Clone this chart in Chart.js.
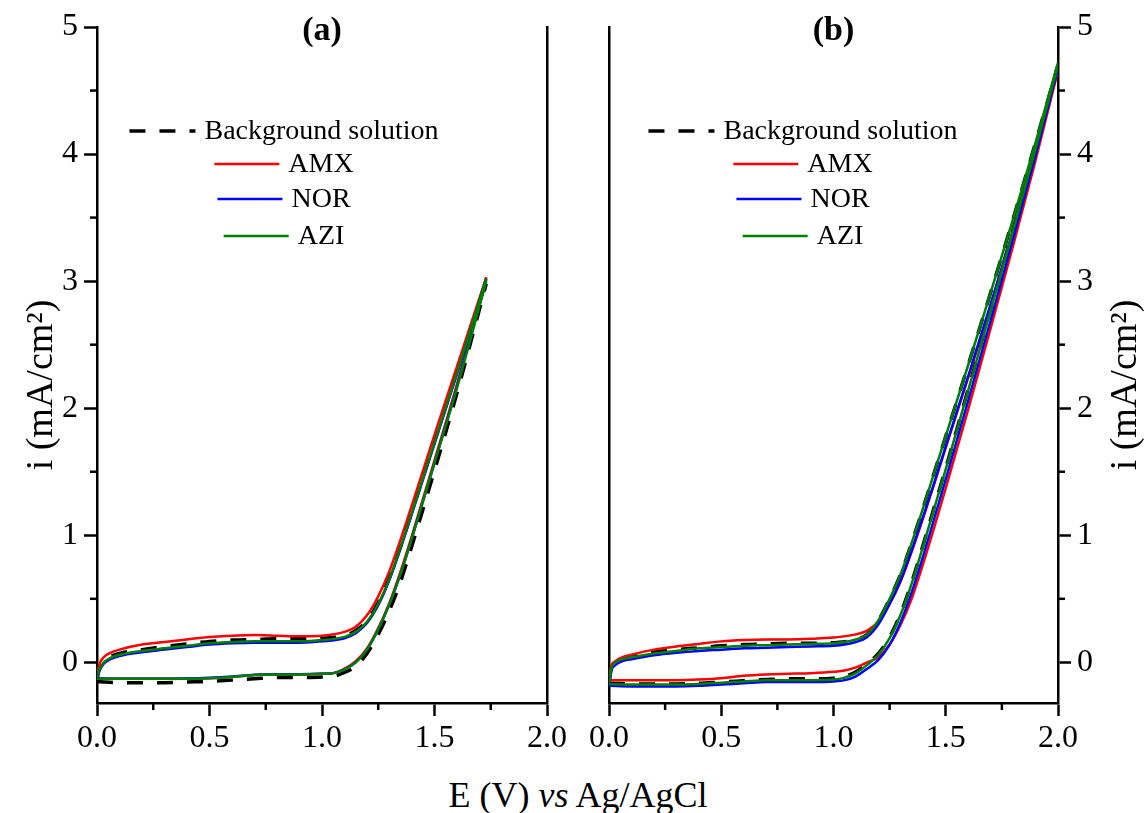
<!DOCTYPE html>
<html>
<head>
<meta charset="utf-8">
<script src="https://cdn.jsdelivr.net/npm/chart.js@4.4.1/dist/chart.umd.min.js"></script>
<style>
    html, body { margin: 0; padding: 0; background: #fff; }
    body { width: 1145px; height: 813px; position: relative; overflow: hidden; font-family: "Liberation Serif", "Times New Roman", serif; }
    .panel { position: absolute; top: 0; height: 770px; }
    #wrap-a { left: 0; width: 580px; }
    #wrap-b { left: 585px; width: 560px; }
    #x-title { position: absolute; left: 0; width: 1156px; top: 774px; text-align: center; font-size: 36px; line-height: 42px; color: #000; }
</style>
</head>
<body>
<div class="panel" id="wrap-a"><canvas id="chart-a"></canvas></div>
<div class="panel" id="wrap-b"><canvas id="chart-b"></canvas></div>
<div id="x-title">E (V) <i>vs</i> Ag/AgCl</div>
<script>
// Potential grids (V) - forward (lower) and reverse (upper) branches
const EaL = [0, 0.1, 0.2, 0.3, 0.4, 0.5, 0.6, 0.7, 0.8, 0.9, 1.0, 1.05, 1.1, 1.15, 1.2, 1.25, 1.3, 1.35, 1.4, 1.5, 1.6, 1.73];
const EaU = [0, 0.01, 0.03, 0.06, 0.1, 0.2, 0.3, 0.4, 0.5, 0.6, 0.7, 0.8, 0.9, 1.0, 1.1, 1.15, 1.2, 1.25, 1.3, 1.35, 1.4, 1.5, 1.6, 1.73];
const EbL = [0, 0.1, 0.2, 0.3, 0.4, 0.5, 0.6, 0.7, 0.8, 0.9, 1.0, 1.05, 1.1, 1.15, 1.2, 1.25, 1.3, 1.35, 1.4, 1.45, 1.5, 1.6, 1.7, 1.8, 1.9, 2.0];
const EbU = [0, 0.01, 0.03, 0.06, 0.1, 0.2, 0.3, 0.4, 0.5, 0.6, 0.7, 0.8, 0.9, 1.0, 1.1, 1.15, 1.2, 1.25, 1.3, 1.35, 1.4, 1.45, 1.5, 1.6, 1.7, 1.8, 1.9, 2.0];

// Panel (a) currents (mA/cm2)
const bgA_L  = [-0.15, -0.16, -0.16, -0.16, -0.155, -0.15, -0.14, -0.13, -0.12, -0.12, -0.115, -0.11, -0.08, -0.03, 0.07, 0.22, 0.41, 0.64, 0.92, 1.51, 2.12, 2.98];
const amxA_L = [-0.13, -0.13, -0.13, -0.13, -0.13, -0.125, -0.115, -0.10, -0.095, -0.095, -0.09, -0.085, -0.05, 0.01, 0.11, 0.27, 0.47, 0.72, 1.0, 1.59, 2.19, 3.03];
const norA_L = [-0.125, -0.13, -0.13, -0.13, -0.128, -0.122, -0.112, -0.098, -0.093, -0.093, -0.09, -0.085, -0.055, 0.0, 0.10, 0.26, 0.46, 0.70, 0.98, 1.57, 2.17, 3.01];
const aziA_L = [-0.13, -0.13, -0.13, -0.13, -0.13, -0.125, -0.115, -0.10, -0.095, -0.095, -0.09, -0.085, -0.055, 0.0, 0.10, 0.26, 0.46, 0.70, 0.98, 1.57, 2.16, 3.00];
const bgA_U  = [-0.14, -0.05, 0.01, 0.045, 0.07, 0.10, 0.125, 0.145, 0.165, 0.175, 0.18, 0.185, 0.185, 0.19, 0.21, 0.25, 0.33, 0.47, 0.67, 0.92, 1.19, 1.74, 2.29, 3.00];
const amxA_U = [-0.12, -0.02, 0.04, 0.075, 0.10, 0.14, 0.16, 0.18, 0.20, 0.21, 0.215, 0.21, 0.205, 0.21, 0.24, 0.28, 0.37, 0.52, 0.72, 0.97, 1.24, 1.79, 2.33, 3.03];
const norA_U = [-0.12, -0.07, -0.01, 0.025, 0.05, 0.08, 0.10, 0.12, 0.14, 0.15, 0.155, 0.155, 0.155, 0.165, 0.19, 0.23, 0.31, 0.45, 0.65, 0.90, 1.17, 1.72, 2.27, 3.02];
const aziA_U = [-0.12, -0.06, 0.0, 0.035, 0.06, 0.09, 0.11, 0.13, 0.15, 0.16, 0.165, 0.165, 0.165, 0.175, 0.20, 0.24, 0.32, 0.46, 0.66, 0.91, 1.18, 1.73, 2.28, 3.02];

// Panel (b) currents (mA/cm2)
const bgB_L  = [-0.165, -0.17, -0.17, -0.17, -0.165, -0.155, -0.145, -0.135, -0.13, -0.13, -0.125, -0.11, -0.075, -0.01, 0.07, 0.20, 0.39, 0.64, 0.93, 1.23, 1.53, 2.15, 2.78, 3.41, 4.05, 4.70];
const amxB_L = [-0.14, -0.14, -0.14, -0.14, -0.135, -0.125, -0.105, -0.095, -0.09, -0.085, -0.075, -0.065, -0.04, 0.0, 0.04, 0.14, 0.30, 0.51, 0.78, 1.07, 1.37, 1.99, 2.63, 3.28, 3.95, 4.66];
const norB_L = [-0.185, -0.19, -0.19, -0.19, -0.185, -0.175, -0.165, -0.155, -0.155, -0.155, -0.15, -0.14, -0.11, -0.05, 0.02, 0.14, 0.32, 0.56, 0.84, 1.14, 1.44, 2.06, 2.69, 3.33, 3.99, 4.68];
const aziB_L = [-0.17, -0.175, -0.175, -0.175, -0.17, -0.16, -0.15, -0.14, -0.14, -0.14, -0.135, -0.12, -0.085, -0.02, 0.06, 0.19, 0.38, 0.63, 0.92, 1.22, 1.52, 2.14, 2.77, 3.40, 4.04, 4.70];
const bgB_U  = [-0.165, -0.05, 0.0, 0.03, 0.05, 0.08, 0.10, 0.115, 0.13, 0.14, 0.145, 0.15, 0.15, 0.155, 0.18, 0.22, 0.33, 0.50, 0.70, 0.95, 1.22, 1.50, 1.78, 2.34, 2.91, 3.49, 4.09, 4.70];
const amxB_U = [-0.14, -0.03, 0.01, 0.04, 0.06, 0.10, 0.125, 0.145, 0.165, 0.175, 0.18, 0.18, 0.185, 0.195, 0.22, 0.25, 0.32, 0.46, 0.64, 0.88, 1.14, 1.41, 1.69, 2.24, 2.80, 3.38, 3.99, 4.66];
const norB_U = [-0.19, -0.07, -0.02, 0.01, 0.025, 0.055, 0.075, 0.09, 0.10, 0.11, 0.115, 0.12, 0.125, 0.13, 0.16, 0.20, 0.30, 0.46, 0.65, 0.89, 1.15, 1.42, 1.70, 2.25, 2.82, 3.40, 4.01, 4.68];
const aziB_U = [-0.17, -0.05, 0.0, 0.025, 0.04, 0.07, 0.09, 0.11, 0.12, 0.13, 0.135, 0.14, 0.145, 0.15, 0.18, 0.22, 0.33, 0.50, 0.70, 0.95, 1.22, 1.50, 1.78, 2.34, 2.91, 3.49, 4.09, 4.72];

// Legend labels and minor tick positions
const seriesNames = ['Background solution', 'AMX', 'NOR', 'AZI'];
const minorX = [0.25, 0.75, 1.25, 1.75];
const minorY = [0.5, 1.5, 2.5, 3.5, 4.5];
const yTitle = 'i (mA/cm²)';

const FONT = '"Liberation Serif", "Times New Roman", serif';
const styles = [
    { color: '#000000', width: 3.5, dash: [16, 14], order: 3 },
    { color: '#ff0000', width: 2.5, dash: [], order: 2 },
    { color: '#0000ff', width: 2.5, dash: [], order: 1 },
    { color: '#008000', width: 2.5, dash: [], order: 0 }
];

function pts(xs, ys) {
    return xs.map((x, i) => ({ x: x, y: ys[i] }));
}

function buildDatasets(branches) {
    const sets = [];
    branches.forEach((b, k) => {
        const st = styles[k];
        [b.lower, b.upper].forEach(data => {
            sets.push({
                label: seriesNames[k],
                data: data,
                showLine: true,
                borderColor: st.color,
                borderWidth: st.width,
                borderDash: st.dash,
                pointRadius: 0,
                cubicInterpolationMode: 'monotone',
                order: st.order
            });
        });
    });
    return sets;
}

// minor ticks, panel tag, legend and y title
const extrasPlugin = {
    id: 'extras',
    afterDraw(chart, args, opts) {
        const ctx = chart.ctx;
        const area = chart.chartArea;
        const xs = chart.scales.x;
        const ys = chart.scales.y;
        ctx.save();
        ctx.strokeStyle = '#000';
        ctx.lineWidth = 2.5;
        ctx.setLineDash([]);
        minorX.forEach(v => {
            const px = xs.getPixelForValue(v);
            ctx.beginPath();
            ctx.moveTo(px, area.bottom);
            ctx.lineTo(px, area.bottom + 7);
            ctx.stroke();
        });
        const left = opts.ySide === 'left';
        const x0 = left ? area.left : area.right;
        const dx = left ? -7 : 7;
        minorY.forEach(v => {
            const py = ys.getPixelForValue(v);
            ctx.beginPath();
            ctx.moveTo(x0, py);
            ctx.lineTo(x0 + dx, py);
            ctx.stroke();
        });

        // panel tag
        ctx.fillStyle = '#000';
        ctx.font = 'bold 34px ' + FONT;
        ctx.textAlign = 'center';
        ctx.textBaseline = 'middle';
        ctx.fillText(opts.tag, (area.left + area.right) / 2, area.top + 4);

        // legend
        ctx.font = '28px ' + FONT;
        ctx.textAlign = 'left';
        const cx = area.left + opts.legendCx;
        const rowsY = [104, 137, 172, 209];
        seriesNames.forEach((name, k) => {
            const st = styles[k];
            const lineLen = k === 0 ? 66 : 65;
            const gap = 9;
            const w = lineLen + gap + ctx.measureText(name).width;
            const sx = cx - w / 2;
            const y = area.top + rowsY[k];
            ctx.strokeStyle = st.color;
            ctx.lineWidth = k === 0 ? 3.5 : 2.5;
            ctx.setLineDash(st.dash);
            ctx.beginPath();
            ctx.moveTo(sx, y);
            ctx.lineTo(sx + lineLen, y);
            ctx.stroke();
            ctx.setLineDash([]);
            ctx.fillText(name, sx + lineLen + gap, y + 1);
        });

        // y title, reading bottom to top on both panels
        ctx.font = '38px ' + FONT;
        ctx.textAlign = 'center';
        ctx.translate(left ? area.left - 55 : area.right + 68, area.top + 358);
        ctx.rotate(-Math.PI / 2);
        ctx.fillText(yTitle, 0, 0);
        ctx.restore();
    }
};

function axisX() {
    return {
        type: 'linear',
        min: 0,
        max: 2.0,
        ticks: {
            stepSize: 0.5,
            color: '#000',
            font: { family: FONT, size: 32 },
            padding: 3,
            maxRotation: 0,
            callback: v => v.toFixed(1)
        },
        grid: { drawOnChartArea: false, tickLength: 13, tickWidth: 2.5, tickColor: '#000' },
        border: { color: '#000', width: 2.5 },
        afterFit: s => { s.height = 67; }
    };
}

function axisY(position, width, showLabels) {
    return {
        type: 'linear',
        position: position,
        min: -0.32,
        max: 5,
        ticks: {
            display: showLabels,
            stepSize: 1,
            includeBounds: false,
            color: '#000',
            font: { family: FONT, size: 32 },
            padding: 6
        },
        grid: { drawOnChartArea: false, drawTicks: showLabels, tickLength: 13, tickWidth: 2.5, tickColor: '#000' },
        border: { color: '#000', width: 2.5 },
        afterFit: s => { s.width = width; }
    };
}

function makeChart(canvasId, branches, scales, extras) {
    return new Chart(document.getElementById(canvasId), {
        type: 'scatter',
        data: { datasets: buildDatasets(branches) },
        options: {
            responsive: true,
            maintainAspectRatio: false,
            animation: false,
            layout: { padding: { top: 27, right: 0, bottom: 0, left: 0 } },
            scales: scales,
            plugins: {
                legend: { display: false },
                tooltip: { enabled: false },
                extras: extras
            }
        },
        plugins: [extrasPlugin]
    });
}

// Panel (a)
makeChart('chart-a', [
    { lower: pts(EaL, bgA_L),  upper: pts(EaU, bgA_U) },
    { lower: pts(EaL, amxA_L), upper: pts(EaU, amxA_U) },
    { lower: pts(EaL, norA_L), upper: pts(EaU, norA_U) },
    { lower: pts(EaL, aziA_L), upper: pts(EaU, aziA_U) }
], { x: axisX(), y: axisY('left', 97, true), yr: axisY('right', 33, false) },
   { tag: '(a)', ySide: 'left', legendCx: 187 });

// Panel (b)
makeChart('chart-b', [
    { lower: pts(EbL, bgB_L),  upper: pts(EbU, bgB_U) },
    { lower: pts(EbL, amxB_L), upper: pts(EbU, amxB_U) },
    { lower: pts(EbL, norB_L), upper: pts(EbU, norB_U) },
    { lower: pts(EbL, aziB_L), upper: pts(EbU, aziB_U) }
], { x: axisX(), yl: axisY('left', 24, false), y: axisY('right', 87, true) },
   { tag: '(b)', ySide: 'right', legendCx: 194 });
</script>
</body>
</html>
